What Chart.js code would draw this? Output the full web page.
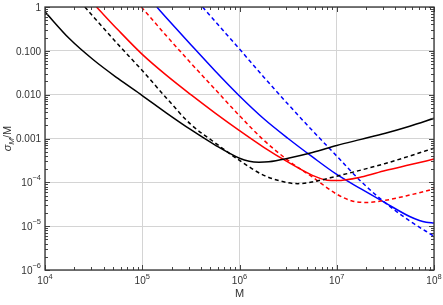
<!DOCTYPE html>
<html><head><meta charset="utf-8">
<script src="https://cdn.jsdelivr.net/npm/chart.js@4/dist/chart.umd.min.js"></script>
<style>html,body{margin:0;padding:0;background:#fff}</style>
</head><body>
<canvas id="c" width="443" height="305"></canvas>
<script>
// ---- tick labels ----
const xTickValues = [1e4, 1e5, 1e6, 1e7, 1e8];
const xTickLabels = ['10⁴', '10⁵', '10⁶', '10⁷', '10⁸'];
const yTickValues = [1e-6, 1e-5, 1e-4, 0.001, 0.01, 0.1, 1];
const yTickLabels = ['10⁻⁶', '10⁻⁵', '10⁻⁴', '0.001', '0.010', '0.100', '1'];
const minorMultipliers = [2, 3, 4, 5, 6, 7, 8, 9];

// ---- series (M, sigma_M/M) ----
const blackSolidM = [1e4, 1.778e4, 3.162e4, 5.623e4, 1e5, 1.778e5, 3.162e5, 5.623e5, 1e6, 1.259e6, 1.585e6, 1.995e6, 3.162e6, 5.623e6, 1e7, 1.778e7, 3.162e7, 5.623e7, 1e8];
const blackSolidS = [0.7762, 0.1905, 0.06166, 0.02344, 0.00955, 0.003802, 0.001585, 7.079e-4, 3.548e-4, 3.020e-4, 2.884e-4, 2.951e-4, 3.548e-4, 4.786e-4, 6.918e-4, 9.550e-4, 1.318e-3, 1.905e-3, 2.884e-3];

const blackDashM = [2.570e4, 3.162e4, 5.623e4, 1e5, 1.778e5, 3.162e5, 5.623e5, 1e6, 1.778e6, 3.162e6, 3.981e6, 5.623e6, 1e7, 1.778e7, 3.162e7, 5.623e7, 1e8];
const blackDashS = [1.0, 0.5888, 0.1413, 0.03548, 0.008318, 0.002089, 7.943e-4, 3.162e-4, 1.445e-4, 9.772e-5, 9.333e-5, 1.023e-4, 1.380e-4, 1.905e-4, 2.692e-4, 3.981e-4, 6.026e-4];

const redSolidM = [3.388e4, 5.623e4, 1e5, 1.778e5, 3.162e5, 5.623e5, 1e6, 1.778e6, 3.162e6, 5.623e6, 7.943e6, 1e7, 1.778e7, 3.162e7, 5.623e7, 1e8];
const redSolidS = [1.0, 0.3020, 0.08318, 0.02754, 0.01, 0.003802, 0.001514, 6.310e-4, 2.884e-4, 1.445e-4, 1.122e-4, 1.096e-4, 1.318e-4, 1.862e-4, 2.512e-4, 3.388e-4];

const redDashM = [9.772e4, 1.778e5, 3.162e5, 5.623e5, 1e6, 1.778e6, 3.162e6, 5.623e6, 1e7, 1.413e7, 1.995e7, 3.162e7, 5.623e7, 1e8];
const redDashS = [1.0, 0.2188, 0.05248, 0.01318, 0.003311, 9.120e-4, 3.162e-4, 1.318e-4, 5.370e-5, 3.802e-5, 3.467e-5, 3.890e-5, 5.129e-5, 7.079e-5];

const blueSolidM = [1.413e5, 1.778e5, 3.162e5, 5.623e5, 1e6, 1.778e6, 3.162e6, 5.623e6, 1e7, 1.778e7, 3.162e7, 5.623e7, 7.079e7, 8.318e7, 1e8];
const blueSolidS = [1.0, 0.5623, 0.1380, 0.03467, 0.009333, 0.002818, 0.001, 3.802e-4, 1.514e-4, 7.079e-5, 3.388e-5, 1.660e-5, 1.349e-5, 1.230e-5, 1.175e-5];

const blueDashM = [4.169e5, 5.623e5, 1e6, 1.778e6, 3.162e6, 5.623e6, 1e7, 1.778e7, 3.162e7, 5.623e7, 1e8];
const blueDashS = [1.0, 0.4677, 0.1096, 0.02512, 0.006026, 0.001514, 3.981e-4, 1.047e-4, 3.388e-5, 1.318e-5, 5.888e-6];

function pts(ms, ss) { return ms.map((m, i) => ({ x: m, y: ss[i] })); }
function ds(ms, ss, color, dashed) {
  return {
    data: pts(ms, ss), borderColor: color, borderWidth: 1.5,
    borderDash: dashed ? [4, 3] : [], pointRadius: 0, fill: false,
    cubicInterpolationMode: 'monotone'
  };
}

const FONT = "'Liberation Sans', Arial, sans-serif";
const SUP = '⁰¹²³⁴⁵⁶⁷⁸⁹⁻', NORM = '0123456789−';
function splitLabel(s) {
  let base = '', exp = '';
  for (const ch of s) {
    const k = SUP.indexOf(ch);
    if (k >= 0) exp += NORM[k]; else base += ch;
  }
  return { base, exp };
}

const framePlugin = {
  id: 'frame',
  afterDatasetsDraw(chart) {
    const { ctx, chartArea: a, scales: { x, y } } = chart;
    ctx.save();
    ctx.strokeStyle = '#444';
    ctx.lineWidth = 1;
    ctx.beginPath();
    const line = (x1, y1, x2, y2) => { ctx.moveTo(x1, y1); ctx.lineTo(x2, y2); };
    for (let d = 4; d < 8; d++) {
      for (const k of minorMultipliers) {
        const px = Math.round(x.getPixelForValue(k * Math.pow(10, d))) + 0.5;
        line(px, a.bottom, px, a.bottom - 3);
        line(px, a.top, px, a.top + 3);
      }
    }
    for (let d = -6; d < 0; d++) {
      for (const k of minorMultipliers) {
        const py = Math.round(y.getPixelForValue(k * Math.pow(10, d))) + 0.5;
        line(a.left, py, a.left + 3, py);
        line(a.right, py, a.right - 3, py);
      }
    }
    for (const v of xTickValues) {
      const px = Math.round(x.getPixelForValue(v)) + 0.5;
      line(px, a.bottom, px, a.bottom - 5);
      line(px, a.top, px, a.top + 5);
    }
    for (const v of yTickValues) {
      const py = Math.round(y.getPixelForValue(v)) + 0.5;
      line(a.left, py, a.left + 5, py);
      line(a.right, py, a.right - 5, py);
    }
    ctx.stroke();
    ctx.strokeStyle = '#333';
    ctx.lineWidth = 1.3;
    ctx.strokeRect(a.left, a.top, a.right - a.left, a.bottom - a.top);

    // tick labels with real superscripts
    ctx.fillStyle = '#333';
    const fb = '10px ' + FONT, fe = '7.5px ' + FONT;
    ctx.textAlign = 'left';
    xTickValues.forEach((v, i) => {
      const { base, exp } = splitLabel(xTickLabels[i]);
      ctx.font = fb; const wb = ctx.measureText(base).width;
      ctx.font = fe; const we = ctx.measureText(exp).width;
      const px = x.getPixelForValue(v);
      let sx = px - (wb + we) / 2;
      ctx.textBaseline = 'alphabetic';
      ctx.font = fb; ctx.fillText(base, sx, a.bottom + 14);
      ctx.font = fe; ctx.fillText(exp, sx + wb, a.bottom + 9);
    });
    yTickValues.forEach((v, i) => {
      const { base, exp } = splitLabel(yTickLabels[i]);
      ctx.font = fb; const wb = ctx.measureText(base).width;
      ctx.font = fe; const we = ctx.measureText(exp).width;
      const py = y.getPixelForValue(v);
      const right = a.left - 4;
      let sx = right - wb - we;
      ctx.textBaseline = 'middle';
      ctx.font = fb; ctx.fillText(base, sx, py + 1);
      if (exp) { ctx.font = fe; ctx.fillText(exp, sx + wb, py - 4); }
    });

    // y-axis title: sigma_M / M
    const cy = (a.top + a.bottom) / 2;
    ctx.translate(11, cy);
    ctx.rotate(-Math.PI / 2);
    ctx.textBaseline = 'alphabetic';
    const f1 = "italic 11px " + FONT, f2 = "italic 8px " + FONT, f3 = "11px " + FONT;
    ctx.font = f1; const w1 = ctx.measureText('σ').width;
    ctx.font = f2; const w2 = ctx.measureText('M').width;
    ctx.font = f3; const w3 = ctx.measureText('/M').width;
    let sx = -(w1 + w2 + w3) / 2;
    ctx.font = f1; ctx.fillText('σ', sx, 0); sx += w1;
    ctx.font = f2; ctx.fillText('M', sx, 3); sx += w2;
    ctx.font = f3; ctx.fillText('/M', sx, 0);
    ctx.restore();
  }
};

new Chart(document.getElementById('c'), {
  type: 'line',
  data: {
    datasets: [
      ds(blackSolidM, blackSolidS, '#000000', false),
      ds(blackDashM, blackDashS, '#000000', true),
      ds(redSolidM, redSolidS, '#ff0000', false),
      ds(redDashM, redDashS, '#ff0000', true),
      ds(blueSolidM, blueSolidS, '#0000ff', false),
      ds(blueDashM, blueDashS, '#0000ff', true)
    ]
  },
  options: {
    responsive: false,
    devicePixelRatio: 1,
    animation: false,
    layout: { padding: { top: 7, right: 9, left: 0, bottom: 0 } },
    plugins: { legend: { display: false }, tooltip: { enabled: false } },
    scales: {
      x: {
        type: 'logarithmic', min: 1e4, max: 1e8,
        afterBuildTicks: s => { s.ticks = xTickValues.map(v => ({ value: v })); },
        afterFit: s => { s.height = 35; },
        ticks: { display: false, autoSkip: false, callback: (v, i) => xTickLabels[i] },
        grid: { color: '#d4d4d4', lineWidth: 1, drawTicks: false },
        border: { display: false },
        title: { display: true, text: 'M', color: '#333', font: { family: FONT, size: 11 }, padding: { top: 0, bottom: 4 } }
      },
      y: {
        type: 'logarithmic', min: 1e-6, max: 1,
        afterBuildTicks: s => { s.ticks = yTickValues.map(v => ({ value: v })); },
        afterFit: s => { s.width = 45; },
        ticks: { display: false, autoSkip: false, callback: (v, i) => yTickLabels[i] },
        grid: { color: '#d4d4d4', lineWidth: 1, drawTicks: false },
        border: { display: false }
      }
    }
  },
  plugins: [framePlugin]
});
</script>
</body></html>
